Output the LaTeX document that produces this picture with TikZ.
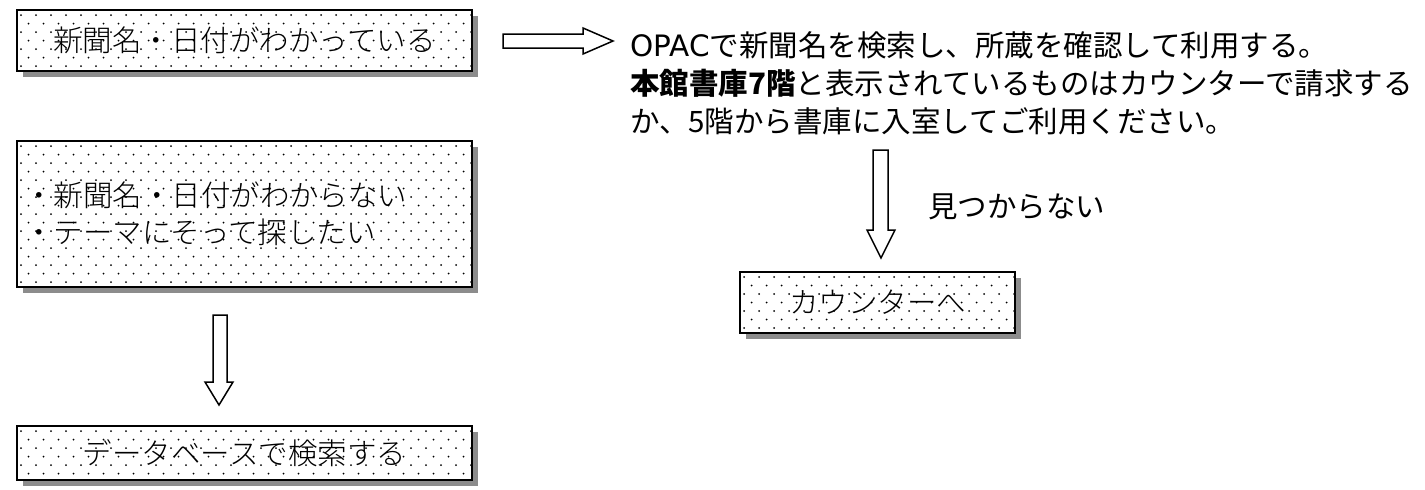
\documentclass[tikz,border=0pt]{standalone}
\usepackage{fontspec}
\setmainfont{Noto Sans CJK JP}[UprightFont={* Light}, BoldFont={* Bold}]
\newfontfamily\jpreg{Noto Sans CJK JP}
\newfontfamily\latinw{DejaVu Sans}
\usetikzlibrary{calc,shadows}
\tikzset{
  dotbox/.style={draw=black, line width=1.6pt, fill=white, inner sep=0pt,
    font=\fontsize{29.5}{37}\selectfont,
    drop shadow={shadow xshift=6pt, shadow yshift=-6pt, fill=black!45, opacity=1},
    path picture={
      \foreach \r in {0,...,17}{
        \foreach \c in {0,...,31}{
          \fill[black] ($(path picture bounding box.north west)+({\c*15+7.5*mod(\r,2)+4},{\r*8.5+5})$) circle (1pt);
        }
      }
    }},
  blockarrow/.style={draw=black, line width=1.5pt, fill=white, line join=miter},
  plain/.style={font=\jpreg\fontsize{29.5}{38}\selectfont, inner sep=0pt}
}
\begin{document}
\begin{tikzpicture}[x=1pt,y=-1pt]
\useasboundingbox (0,0) rectangle (1425,490);
% boxes
\node[dotbox, minimum width=455pt, minimum height=61pt] (known) at (244.5,40.5) {新聞名・日付がわかっている};
\node[dotbox, minimum width=455pt, minimum height=146pt, text width=441pt, align=left] (unknown) at (244.5,214) {・新聞名・日付がわからない\\・テーマにそって探したい};
\node[dotbox, minimum width=455pt, minimum height=54pt] (db) at (244.5,453) {データベースで検索する};
\node[dotbox, minimum width=275pt, minimum height=61pt] (counter) at (877.5,302.5) {カウンターへ};
% texts
\node[plain, anchor=west, align=left] (opac) at (630,83) {{\latinw OPAC}で新聞名を検索し、所蔵を確認して利用する。\\\textbf{本館書庫7階}と表示されているものはカウンターで請求する\\か、5階から書庫に入室してご利用ください。};
\node[plain, anchor=west] (nf) at (928,207) {見つからない};
% block arrows
\draw[blockarrow] (503,34) -- (583,34) -- (583,28) -- (613,41) -- (583,54) -- (583,48) -- (503,48) -- cycle;
\draw[blockarrow] (213,315) -- (227,315) -- (227,382) -- (233,382) -- (219,405) -- (205,382) -- (213,382) -- cycle;
\draw[blockarrow] (873,150) -- (888,150) -- (888,230) -- (895,230) -- (881,258) -- (867,230) -- (873,230) -- cycle;
\end{tikzpicture}
\end{document}
